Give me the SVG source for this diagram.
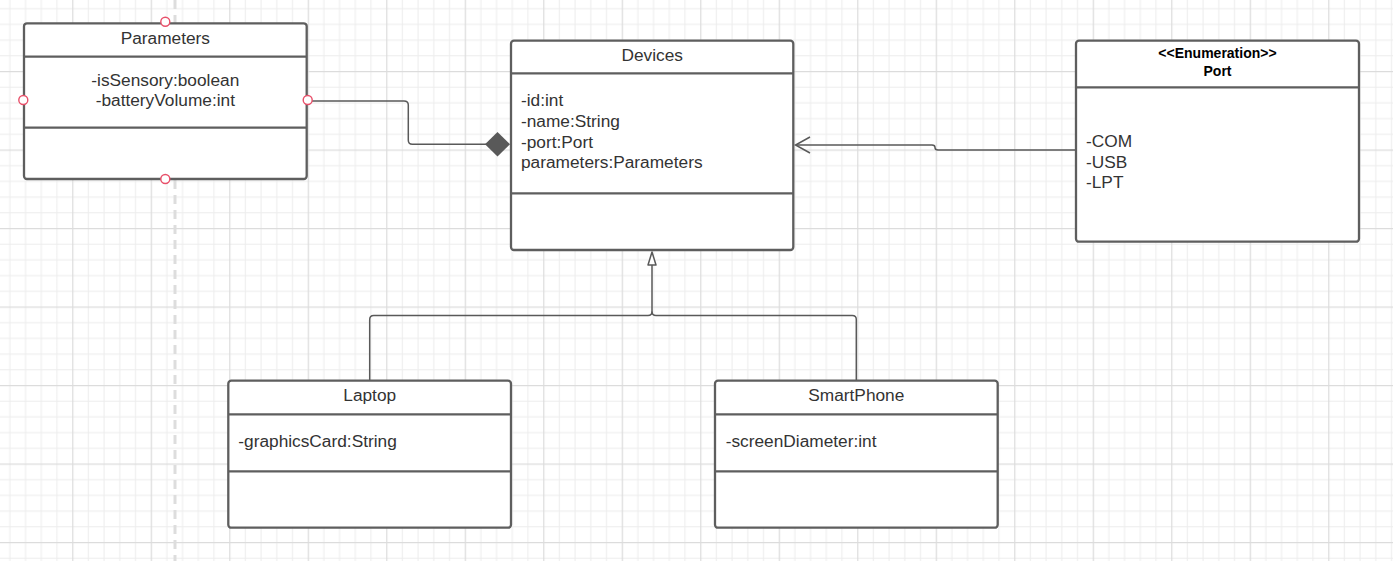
<svg xmlns="http://www.w3.org/2000/svg" width="1393" height="561" viewBox="0 0 1393 561">
<defs>
<pattern id="grid" patternUnits="userSpaceOnUse" x="72.2" y="71" width="78.5" height="78.5">
<rect x="0" y="0" width="78.5" height="78.5" fill="#ffffff"/>
<g fill="#ededed">
<rect x="15.7" y="0" width="1" height="78.5"/>
<rect x="31.4" y="0" width="1" height="78.5"/>
<rect x="47.1" y="0" width="1" height="78.5"/>
<rect x="62.8" y="0" width="1" height="78.5"/>
<rect x="0" y="15.7" width="78.5" height="1"/>
<rect x="0" y="31.4" width="78.5" height="1"/>
<rect x="0" y="47.1" width="78.5" height="1"/>
<rect x="0" y="62.8" width="78.5" height="1"/>
</g>
<g fill="#dcdcdc">
<rect x="0" y="0" width="1.2" height="78.5"/>
<rect x="0" y="0" width="78.5" height="1.2"/>
</g>
</pattern>
</defs>
<style>
.box{fill:#ffffff;stroke:#5e5e5e;stroke-width:2.3}
.div{stroke:#5e5e5e;stroke-width:2.3}
.t{font-family:"Liberation Sans",Arial,sans-serif;font-size:17.3px;fill:#333333}
.c{text-anchor:middle}
.b{font-weight:bold;font-size:14px;fill:#000000}
.conn{fill:none;stroke:#595959;stroke-width:1.5}
.pt{fill:#ffffff;stroke:#e8506a;stroke-width:1.4}
</style>
<rect x="0" y="0" width="1393" height="561" fill="url(#grid)"/>
<line x1="175" y1="0" x2="175" y2="561" stroke="#dddddd" stroke-width="3" stroke-dasharray="9 6"/>

<g id="connectors">
<path class="conn" d="M308,101 L404,101 Q408.3,101 408.3,105 L408.3,140.3 Q408.3,144.3 412.3,144.3 L486,144.3"/>
<path d="M485,144.3 L497.5,132 L510,144.3 L497.5,156.6 Z" fill="#595959"/>
<path class="conn" d="M1076,150 L938,150 Q935,150 935,147.5 Q935,145 932,145 L796,145"/>
<path class="conn" d="M810,137 L795.5,145 L810,153"/>
<path class="conn" d="M652,265 L652,311.5 Q652,315.5 648,315.5 L373.7,315.5 Q369.7,315.5 369.7,319.5 L369.7,381"/>
<path class="conn" d="M652,311.5 Q652,315.5 656,315.5 L852.3,315.5 Q856.3,315.5 856.3,319.5 L856.3,381"/>
<path d="M652,252 L656,265 L648,265 Z" fill="#ffffff" stroke="#595959" stroke-width="1.5" stroke-linejoin="round"/>
</g>

<g id="parameters">
<rect class="box" x="24" y="23.3" width="282.7" height="155.7" rx="3"/>
<line class="div" x1="24" y1="56.7" x2="306.7" y2="56.7"/>
<line class="div" x1="24" y1="127.7" x2="306.7" y2="127.7"/>
<text class="t c" x="165.3" y="44.3">Parameters</text>
<text class="t c" x="165.3" y="85.7">-isSensory:boolean</text>
<text class="t c" x="165.3" y="106">-batteryVolume:int</text>
<circle class="pt" cx="165.3" cy="21.7" r="4.5"/>
<circle class="pt" cx="165.3" cy="179" r="4.5"/>
<circle class="pt" cx="23.3" cy="100" r="4.5"/>
<circle class="pt" cx="307.7" cy="100" r="4.5"/>
</g>

<g id="devices">
<rect class="box" x="511" y="40.7" width="282.3" height="209.3" rx="3"/>
<line class="div" x1="511" y1="73.3" x2="793.3" y2="73.3"/>
<line class="div" x1="511" y1="193.3" x2="793.3" y2="193.3"/>
<text class="t c" x="652.2" y="61">Devices</text>
<text class="t" x="521" y="105.7">-id:int</text>
<text class="t" x="521" y="126.7">-name:String</text>
<text class="t" x="521" y="147.7">-port:Port</text>
<text class="t" x="521" y="168.3">parameters:Parameters</text>
</g>

<g id="port">
<rect class="box" x="1076" y="40.7" width="283" height="201" rx="3"/>
<line class="div" x1="1076" y1="87.3" x2="1359" y2="87.3"/>
<text class="t c b" x="1217.5" y="58.3">&lt;&lt;Enumeration&gt;&gt;</text>
<text class="t c b" x="1217.5" y="75.7">Port</text>
<text class="t" x="1086" y="147.3">-COM</text>
<text class="t" x="1086" y="167.7">-USB</text>
<text class="t" x="1086" y="188.3">-LPT</text>
</g>

<g id="laptop">
<rect class="box" x="228.3" y="380.7" width="282.7" height="147" rx="3"/>
<line class="div" x1="228.3" y1="414.3" x2="511" y2="414.3"/>
<line class="div" x1="228.3" y1="471.3" x2="511" y2="471.3"/>
<text class="t c" x="369.7" y="401">Laptop</text>
<text class="t" x="238.3" y="446.7">-graphicsCard:String</text>
</g>

<g id="smartphone">
<rect class="box" x="715" y="380.7" width="282.7" height="147" rx="3"/>
<line class="div" x1="715" y1="414.3" x2="997.7" y2="414.3"/>
<line class="div" x1="715" y1="471.3" x2="997.7" y2="471.3"/>
<text class="t c" x="856.3" y="401">SmartPhone</text>
<text class="t" x="725.7" y="446.7">-screenDiameter:int</text>
</g>
</svg>
